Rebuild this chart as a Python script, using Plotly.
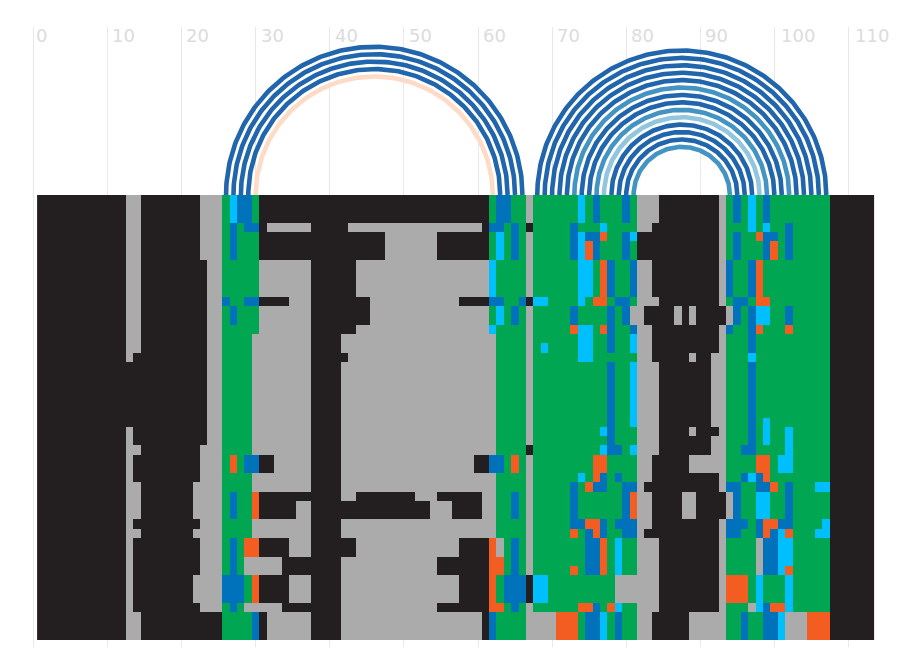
import numpy as np
import plotly.graph_objects as go

CODES = ["K", "G", "E", "B", "C", "O"]
COLORS = ["#231F20", "#ABABAB", "#00A651", "#0072BC", "#00BFFF", "#F45D22"]

# Each row: colour code + last column of the run
ROW_RUNS = [
    "K12 G14 K22 G25 E26 C27 B29 E30 K61 E62 B64 E66 G67 E73 C74 E75 B76 E79 B80 E81 G84 K92 G93 E94 B95 E96 C97 E98 B99 E107 K113",
    "K12 G14 K22 G25 E26 B27 E28 B30 K31 G37 K42 G60 K61 B63 E64 B65 E66 K67 E72 B73 E76 C77 E81 G83 K92 G93 E96 C97 E98 C99 E101 B102 E107 K113",
    "K12 G14 K22 G25 E26 B27 E30 K47 G54 K61 E62 C63 E64 B65 E66 G67 E72 B73 C74 B76 O77 E79 B80 C81 K92 G93 E94 B95 E97 O98 B100 E101 B102 E107 K113",
    "K12 G14 K22 G25 E26 B27 E30 K47 G54 K61 E62 C63 E64 B65 E66 G67 E72 B73 C74 O75 B76 E79 B80 E81 K92 G93 E94 B95 E98 B99 O100 E101 B102 E107 K113",
    "K12 G14 K23 G25 E30 G37 K43 G61 C62 E66 G67 E73 C75 E76 O77 B78 E80 B81 G83 K92 G93 B94 E96 B97 O98 E107 K113",
    "K12 G14 K23 G25 B26 E28 B30 K34 G37 K45 G57 K61 B63 E65 B66 K67 C69 E73 C74 E75 O77 E78 B80 E81 G84 K92 G93 E94 B96 E97 O99 E107 K113",
    "K12 G14 K23 G25 E26 B27 E30 G37 K45 G61 E62 C63 E64 B65 E66 G67 E72 B73 E77 B78 E79 B80 G82 K86 G87 K88 G89 K93 G94 B95 E96 B97 C99 E101 B102 E107 K113",
    "K12 G14 K23 G25 E30 G37 K43 G61 C62 E66 G67 E72 O73 C75 E76 O77 B78 E80 B81 G83 K92 G93 B94 E96 B97 O98 E101 O102 E107 K113",
    "K12 G14 K23 G25 E29 G37 K41 G62 E66 G67 E73 C75 E77 B78 E80 C81 G83 K92 G93 E96 B97 E107 K113",
    "K12 G14 K23 G25 E29 G37 K41 G62 E66 G67 E68 C69 E73 C75 E77 B78 E80 C81 G83 K92 G93 E96 B97 E107 K113",
    "K12 G13 K23 G25 E29 G37 K42 G62 E66 G67 E73 C75 E81 G83 K88 G89 K91 G93 E96 C97 E107 K113",
    "K23 G25 E29 G37 K41 G62 E66 G67 E77 B78 E80 C81 G84 K91 G93 E96 B97 E107 K113",
    "K23 G25 E29 G37 K41 G62 E66 G67 E77 B78 E80 C81 G84 K91 G93 E96 B97 E98 C99 E107 K113",
    "K12 G13 K23 G25 E29 G37 K41 G62 E66 G67 E76 C77 B78 E81 G84 K88 G89 K92 G93 E96 B97 E98 C99 E101 C102 E107 K113",
    "K12 G13 K23 G25 E29 G37 K41 G62 E66 G67 E77 B78 E81 G84 K91 G93 E96 B97 E98 C99 E101 C102 E107 K113",
    "K12 G14 K22 G25 E29 G37 K41 G62 E66 K67 E76 C77 B79 E80 C81 G84 K91 G93 E95 B97 E101 C102 E107 K113",
    "K12 G13 K22 G25 E26 O27 E28 B30 K32 G37 K41 G59 K61 B63 E64 O65 E66 G67 E75 O77 E81 G83 K88 G93 E97 O99 E100 C102 E107 K113",
    "K12 G13 K22 G25 E29 G37 K41 G62 E66 G67 E73 C74 E75 O76 B77 E78 B79 E81 G83 K92 G93 E95 B96 C97 B98 O99 E107 K113",
    "K12 G14 K21 G25 E29 G37 K41 G62 E66 G67 E72 B73 E74 O75 B77 E79 B81 G82 K92 G93 B95 E97 B99 O100 E101 B102 E105 C107 K113",
    "K12 G14 K21 G25 E26 B27 E29 O30 K41 G43 K51 G54 K60 G62 E64 B65 E66 G67 E72 B73 E79 B80 O81 G83 K87 G89 K93 G94 B95 E97 C99 E101 B102 E107 K113",
    "K12 G14 K21 G25 E26 B27 E29 O30 K35 G37 K53 G56 K60 G62 E64 B65 E66 G67 E72 B73 E79 B80 O81 G83 K87 G89 K93 G94 B95 E97 C99 E101 B102 E107 K113",
    "K12 G13 K22 G25 E29 G37 K41 G62 E66 G67 E72 B74 O76 B77 E78 B81 G83 K92 G93 B96 E97 B98 O100 B102 E106 C107 K113",
    "K12 G14 K21 G25 E29 G37 K41 G62 E66 G67 E72 O73 E74 B75 O76 B77 E79 B81 G82 K92 G93 B95 E97 B98 O99 B100 C101 O102 E105 C107 K113",
    "K12 G13 K22 G25 E26 B27 E28 O30 K34 G37 K43 G57 K61 O62 G63 E64 B65 E66 G67 E74 B76 O77 E78 C79 E81 G84 K92 G93 E97 G98 B100 C102 E107 K113",
    "K12 G13 K22 G25 E26 B27 E28 G33 K41 G54 K61 O63 E64 B65 E66 G67 E74 B76 O77 E78 C79 E81 G84 K92 G93 E97 G98 B100 C102 E107 K113",
    "K12 G13 K22 G25 E26 B27 E28 G33 K41 G54 K61 O63 E64 B65 E66 G67 E72 O73 E74 B76 O77 E78 C79 E81 G84 K92 G93 E97 G98 B100 C101 O102 E107 K113",
    "K12 G13 K21 G25 B28 E29 O30 K34 G37 K41 G57 K61 O62 E63 B66 K67 C69 E78 G84 K92 G93 O96 E97 C98 E101 C102 E107 K113",
    "K12 G13 K22 G25 E26 B27 E28 G33 K41 G54 K61 O63 E64 B65 E66 G67 E73 O75 B76 E77 O78 C79 E81 G84 K92 G93 E96 G97 C98 B99 O101 C102 E107 K113",
    "K12 G14 K25 E29 B30 K31 G37 K41 G60 K61 B62 E66 G70 O73 E74 B76 C77 E78 B79 E81 G83 K88 G93 E95 B96 E98 B100 C101 G104 O107 K113",
]
ROW_REPEATS = [3, 1, 1, 2, 4, 1, 2, 1, 1, 1, 1, 6, 1, 1, 1, 1, 2, 1, 1, 1, 2, 1, 1, 2, 1, 1, 3, 1, 3]

# Arc pairs: (left column, right column, colour)
ARC_LEFT = [26, 27, 28, 29, 30, 68, 69, 70, 71, 72, 73, 74, 75, 76, 77, 78, 79, 80, 81]
ARC_RIGHT = [66, 65, 64, 63, 62, 107, 106, 105, 104, 103, 102, 101, 100, 99, 98, 97, 96, 95, 94]
ARC_SHADE = ["d", "d", "d", "d", "p", "d", "d", "d", "d", "d", "m", "d", "d", "m", "l", "d", "d", "d", "m"]
SHADES = {"d": "#2166AC", "m": "#4393C3", "l": "#92C5DE", "p": "#FDDBC7"}

TICKS = [0, 10, 20, 30, 40, 50, 60, 70, 80, 90, 100, 110]

W, H = 904, 672
X0, XU = 33.4, 7.41
GRID_TOP, GRID_BOTTOM = 27.0, 647.0
HEAT_TOP, HEAT_BOTTOM = 195.0, 640.0

rows = []
for rep, runs in zip(ROW_REPEATS, ROW_RUNS):
    r = []
    for tok in runs.split():
        r += [CODES.index(tok[0])] * (int(tok[1:]) - len(r))
    assert len(r) == 113, runs
    rows += [r] * rep
assert len(rows) == 48
z = np.array(rows)
n = len(COLORS)
scale = []
for i, c in enumerate(COLORS):
    scale += [[i / n, c], [(i + 1) / n, c]]

fig = go.Figure()
# base subplot: carries the vertical grid lines
fig.add_trace(go.Scatter(x=[0], y=[0], mode="markers", marker=dict(opacity=0), hoverinfo="skip",
                         showlegend=False, xaxis="x", yaxis="y"))
fig.add_trace(go.Heatmap(z=z, x=np.arange(1, 114), y=np.arange(48), colorscale=scale, zmin=-0.5, zmax=n - 0.5,
                         showscale=False, hoverongaps=False, xaxis="x", yaxis="y2", xgap=0, ygap=0))
t = np.linspace(0, np.pi, 181)
for a, b, s in zip(ARC_LEFT, ARC_RIGHT, ARC_SHADE):
    c, rad = (a + b) / 2, (b - a) / 2
    fig.add_trace(go.Scatter(x=c + rad * np.cos(t), y=rad * np.sin(t), mode="lines",
                             line=dict(color=SHADES[s], width=4.6, shape="linear"),
                             hoverinfo="skip", showlegend=False, xaxis="x", yaxis="y3"))

anns = [dict(text=str(v), x=v, y=1 - 35.5 / H, xref="x", yref="paper", xanchor="left", yanchor="middle",
             xshift=-0.8 + 1.8 * len(str(v)), showarrow=False,
             font=dict(family="DejaVu Sans", size=18, color="#DCDCDC"))
        for v in TICKS]

fig.update_layout(
    width=W, height=H, margin=dict(l=0, r=0, t=0, b=0), paper_bgcolor="white", plot_bgcolor="rgba(0,0,0,0)",
    annotations=anns, showlegend=False,
    xaxis=dict(range=[(0 - X0) / XU, (W - X0) / XU], domain=[0, 1], tickvals=TICKS, showticklabels=False,
               showgrid=True, gridcolor="#E8E8E8", gridwidth=1, zeroline=False, ticks="", showline=False, anchor="y"),
    yaxis=dict(domain=[1 - GRID_BOTTOM / H, 1 - GRID_TOP / H], range=[0, 1], visible=False, showgrid=False,
               zeroline=False, anchor="x"),
    yaxis2=dict(domain=[1 - HEAT_BOTTOM / H, 1 - HEAT_TOP / H], range=[47.5, -0.5], visible=False,
                showgrid=False, zeroline=False, anchor="x"),
    yaxis3=dict(domain=[1 - HEAT_TOP / H, 1 - GRID_TOP / H], range=[0, (HEAT_TOP - GRID_TOP) / XU], visible=False,
                showgrid=False, zeroline=False, anchor="x"),
)
fig.write_html("out.html", config=dict(displayModeBar=False), post_script="document.body.style.margin='0';window.dispatchEvent(new Event('resize'));")
